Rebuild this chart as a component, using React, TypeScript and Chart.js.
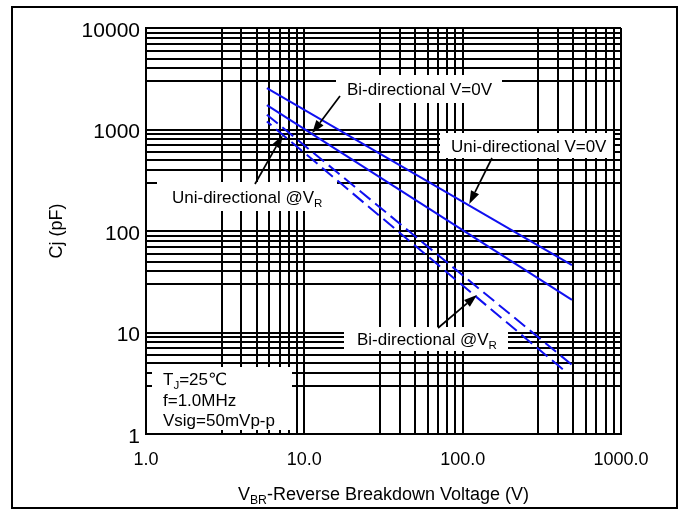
import React, { useEffect, useRef } from 'react';
import { Chart, registerables } from 'chart.js';

Chart.register(...registerables);

// ---------------- data ----------------
const X_DECADES = [1, 10, 100, 1000];
const X_TICK_LABELS = ['1.0', '10.0', '100.0', '1000.0'];
const Y_DECADES = [1, 10, 100, 1000, 10000];
const Y_TICK_LABELS = ['1', '10', '100', '1000', '10000'];
// grid lines drawn inside every decade (this chart has no "2" line)
const GRID_STEPS = [1, 3, 4, 5, 6, 7, 8, 9];

const VBR_UNI_0V = [5.8, 490];
const CJ_UNI_0V = [2550, 46];
const VBR_BI_0V = [5.8, 490];
const CJ_BI_0V = [1740, 21];
const VBR_UNI_VR = [5.8, 490];
const CJ_UNI_VR = [1400, 4.8];
const VBR_BI_VR = [5.8, 456];
const CJ_BI_VR = [1200, 4.0];

const X_TITLE = [{ t: 'V' }, { t: 'BR', sub: true }, { t: '-Reverse Breakdown Voltage (V)' }];
const Y_TITLE = 'Cj (pF)';

const FONT = '"Liberation Sans", Arial, "DejaVu Sans", "Noto Sans CJK SC", sans-serif';
const BLUE = '#1010f0';

type Run = { t: string; sub?: boolean };
type Note = {
  box: [number, number, number, number];
  textX: number;
  lines: { y: number; runs: Run[] }[];
  tail?: [number, number];
  tip?: [number, number]; // data coordinates (V, pF)
};

const NOTES: Note[] = [
  {
    box: [336, 75, 502, 103], textX: 347,
    lines: [{ y: 89, runs: [{ t: 'Bi-directional V=0V' }] }],
    tail: [340, 96], tip: [11.2, 920],
  },
  {
    box: [440, 133, 613, 158], textX: 451,
    lines: [{ y: 146, runs: [{ t: 'Uni-directional V=0V' }] }],
    tail: [492, 158], tip: [110, 185],
  },
  {
    box: [157, 182, 337, 211], textX: 172,
    lines: [{ y: 197, runs: [{ t: 'Uni-directional @V' }, { t: 'R', sub: true }] }],
    tail: [255, 184], tip: [7.3, 880],
  },
  {
    box: [344, 327, 508, 351], textX: 357,
    lines: [{ y: 339, runs: [{ t: 'Bi-directional @V' }, { t: 'R', sub: true }] }],
    tail: [438, 328], tip: [123, 23.4],
  },
  {
    box: [152, 367, 292, 430], textX: 163,
    lines: [
      { y: 379, runs: [{ t: 'T' }, { t: 'J', sub: true }, { t: '=25℃' }] },
      { y: 400, runs: [{ t: 'f=1.0MHz' }] },
      { y: 420, runs: [{ t: 'Vsig=50mVp-p' }] },
    ],
  },
];

function gridValues(decades: number[]) {
  const out: number[] = [];
  for (let i = 0; i < decades.length - 1; i++) {
    for (const s of GRID_STEPS) out.push(s * decades[i]);
  }
  out.push(decades[decades.length - 1]);
  return out;
}

function runsWidth(ctx: CanvasRenderingContext2D, runs: Run[], size: number) {
  let w = 0;
  for (const r of runs) {
    ctx.font = `${r.sub ? size * 0.68 : size}px ${FONT}`;
    w += ctx.measureText(r.t).width;
  }
  return w;
}

function drawRuns(ctx: CanvasRenderingContext2D, runs: Run[], x: number, yMid: number, size: number) {
  let cx = x;
  ctx.textBaseline = 'alphabetic';
  ctx.textAlign = 'left';
  for (const r of runs) {
    const s = r.sub ? size * 0.68 : size;
    ctx.font = `${s}px ${FONT}`;
    const base = yMid + size * 0.36 + (r.sub ? size * 0.22 : 0);
    ctx.fillText(r.t, cx, base);
    cx += ctx.measureText(r.t).width;
  }
}

function drawArrow(ctx: CanvasRenderingContext2D, x0: number, y0: number, x1: number, y1: number) {
  const a = Math.atan2(y1 - y0, x1 - x0);
  const L = 13, W = 4.5;
  const bx = x1 - L * Math.cos(a), by = y1 - L * Math.sin(a);
  ctx.strokeStyle = '#000';
  ctx.fillStyle = '#000';
  ctx.lineWidth = 1.7;
  ctx.beginPath();
  ctx.moveTo(x0, y0);
  ctx.lineTo(bx, by);
  ctx.stroke();
  ctx.beginPath();
  ctx.moveTo(x1, y1);
  ctx.lineTo(bx - W * Math.sin(a), by + W * Math.cos(a));
  ctx.lineTo(bx + W * Math.sin(a), by - W * Math.cos(a));
  ctx.closePath();
  ctx.fill();
}

const notesPlugin = {
  id: 'notes',
  afterDatasetsDraw(chart: any) {
    const ctx: CanvasRenderingContext2D = chart.ctx;
    const xs = chart.scales.x, ys = chart.scales.y;
    ctx.save();
    for (const n of NOTES) {
      const [x0, y0, x1, y1] = n.box;
      ctx.fillStyle = '#fff';
      ctx.fillRect(x0, y0, x1 - x0, y1 - y0);
      ctx.fillStyle = '#000';
      for (const l of n.lines) drawRuns(ctx, l.runs, n.textX, l.y, 17);
      if (n.tail && n.tip) {
        drawArrow(ctx, n.tail[0], n.tail[1], xs.getPixelForValue(n.tip[0]), ys.getPixelForValue(n.tip[1]));
      }
    }
    ctx.restore();
  },
  afterDraw(chart: any) {
    const ctx: CanvasRenderingContext2D = chart.ctx;
    const area = chart.chartArea;
    ctx.save();
    ctx.fillStyle = '#000';
    // x title
    const size = 18;
    const w = runsWidth(ctx, X_TITLE, size);
    drawRuns(ctx, X_TITLE, (area.left + area.right) / 2 - w / 2, 494, size);
    // y title
    ctx.translate(57, (area.top + area.bottom) / 2);
    ctx.rotate(-Math.PI / 2);
    ctx.font = `${size}px ${FONT}`;
    ctx.textAlign = 'center';
    ctx.textBaseline = 'middle';
    ctx.fillText(Y_TITLE, 0, 0);
    ctx.restore();
    // outer frame
    ctx.save();
    ctx.strokeStyle = '#000';
    ctx.lineWidth = 2;
    ctx.strokeRect(12, 7, 665, 501);
    ctx.restore();
  },
};

export default function App() {
  const ref = useRef<HTMLCanvasElement | null>(null);
  useEffect(() => {
    document.body.style.margin = '0';
    const canvas = ref.current!;
    const xGrid = gridValues(X_DECADES);
    const yGrid = gridValues(Y_DECADES);
    const pts = (xs: number[], ys: number[]) => xs.map((x, i) => ({ x, y: ys[i] }));
    const chart = new Chart(canvas, {
      type: 'line',
      data: {
        datasets: [
          { label: 'Uni-directional V=0V', data: pts(VBR_UNI_0V, CJ_UNI_0V), borderColor: BLUE, borderWidth: 2, pointRadius: 0 },
          { label: 'Bi-directional V=0V', data: pts(VBR_BI_0V, CJ_BI_0V), borderColor: BLUE, borderWidth: 2, pointRadius: 0 },
          { label: 'Uni-directional @VR', data: pts(VBR_UNI_VR, CJ_UNI_VR), borderColor: BLUE, borderWidth: 2, pointRadius: 0, borderDash: [14, 6] },
          { label: 'Bi-directional @VR', data: pts(VBR_BI_VR, CJ_BI_VR), borderColor: BLUE, borderWidth: 2, pointRadius: 0, borderDash: [14, 6], borderDashOffset: 8 },
        ],
      },
      options: {
        animation: false,
        responsive: false,
        maintainAspectRatio: false,
        layout: { padding: { top: 28, right: 68, left: 0, bottom: 0 } },
        plugins: { legend: { display: false }, tooltip: { enabled: false } },
        scales: {
          x: {
            type: 'logarithmic',
            min: 1,
            max: 1000,
            afterBuildTicks: (s: any) => { s.ticks = xGrid.map((v) => ({ value: v })); },
            afterFit: (s: any) => { s.height = 85; },
            grid: { color: '#000', lineWidth: 2, drawTicks: false },
            border: { color: '#000', width: 2 },
            ticks: {
              autoSkip: false, maxRotation: 0, minRotation: 0, padding: 15, color: '#000',
              font: { family: FONT, size: 18 },
              callback: (v: any) => { const i = X_DECADES.indexOf(Number(v)); return i >= 0 ? X_TICK_LABELS[i] : ''; },
            },
          },
          y: {
            type: 'logarithmic',
            min: 1,
            max: 10000,
            afterBuildTicks: (s: any) => { s.ticks = yGrid.map((v) => ({ value: v })); },
            afterFit: (s: any) => { s.width = 146; },
            grid: { color: '#000', lineWidth: 2, drawTicks: false },
            border: { color: '#000', width: 2 },
            ticks: {
              autoSkip: false, padding: 6, color: '#000', labelOffset: 3,
              font: { family: FONT, size: 21 },
              callback: (v: any) => { const i = Y_DECADES.indexOf(Number(v)); return i >= 0 ? Y_TICK_LABELS[i] : ''; },
            },
          },
        },
      },
      plugins: [notesPlugin],
    } as any);
    return () => chart.destroy();
  }, []);
  return <canvas ref={ref} width={689} height={519} style={{ display: 'block' }} />;
}
